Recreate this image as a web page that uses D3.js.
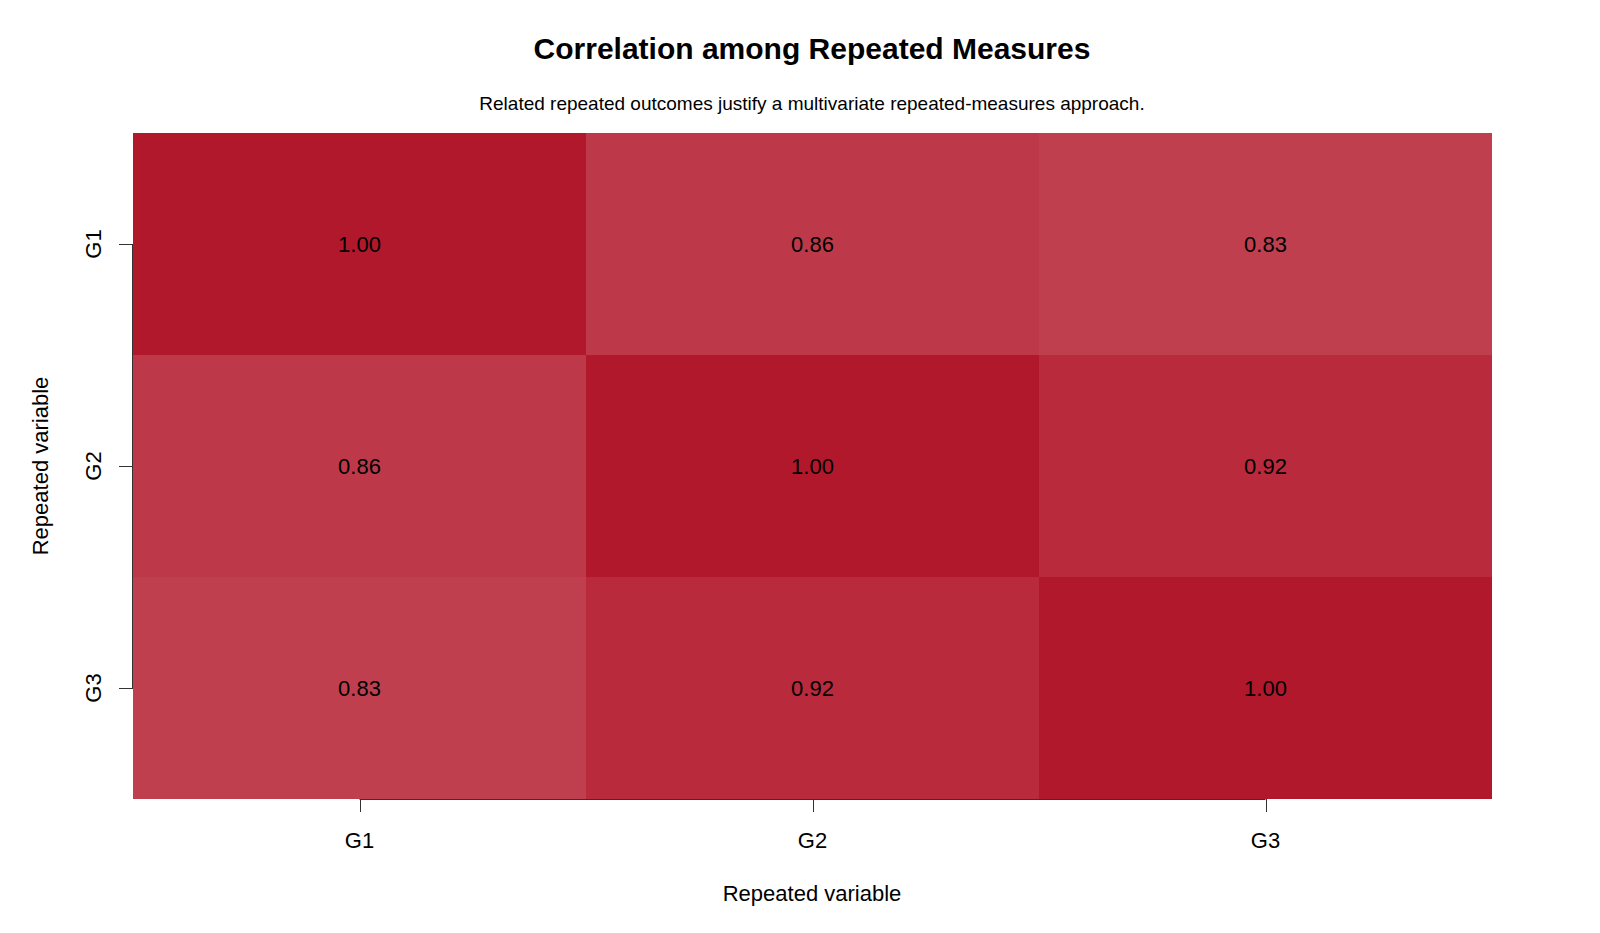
<!DOCTYPE html>
<html>
<head>
<meta charset="utf-8">
<script src="https://cdn.jsdelivr.net/npm/d3@7"></script>
<style>
  html, body { margin: 0; padding: 0; background: #fff; }
  svg { display: block; font-family: "Liberation Sans", Arial, sans-serif; }
</style>
</head>
<body>
<svg id="chart" width="1600" height="933"></svg>
<script>
const rowVars = ["G1", "G2", "G3"];
const colVars = ["G1", "G2", "G3"];
const corrG1 = [1.00, 0.86, 0.83];
const corrG2 = [0.86, 1.00, 0.92];
const corrG3 = [0.83, 0.92, 1.00];
const corrRows = [corrG1, corrG2, corrG3];
const titleText = "Correlation among Repeated Measures";
const subtitleText = "Related repeated outcomes justify a multivariate repeated-measures approach.";
const xAxisTitle = "Repeated variable";
const yAxisTitle = "Repeated variable";

const cells = [];
rowVars.forEach((r, i) => colVars.forEach((c, j) => cells.push({ row: r, col: c, value: corrRows[i][j] })));

const svg = d3.select("#chart");
const margin = { left: 133, right: 108, top: 133, bottom: 134 };
const W = 1600, H = 933;
const x = d3.scaleBand().domain(colVars).range([margin.left, W - margin.right]).padding(0);
const y = d3.scaleBand().domain(rowVars).range([margin.top, H - margin.bottom]).padding(0);
const opacity = d3.scaleLinear().domain([0, 1]).range([0, 1]);
const baseColor = "#B2182B";

svg.append("g").selectAll("rect").data(cells).join("rect")
  .attr("x", d => x(d.col))
  .attr("y", d => y(d.row))
  .attr("width", x.bandwidth())
  .attr("height", y.bandwidth())
  .attr("fill", baseColor)
  .attr("fill-opacity", d => opacity(d.value));

svg.append("g").selectAll("text").data(cells).join("text")
  .attr("x", d => x(d.col) + x.bandwidth() / 2)
  .attr("y", d => y(d.row) + y.bandwidth() / 2)
  .attr("dy", "0.35em")
  .attr("text-anchor", "middle")
  .attr("font-size", 22)
  .attr("fill", "#000")
  .text(d => d3.format(".2f")(d.value));

// Axes (R-style: line spans first to last tick)
const xPos = d => x(d) + x.bandwidth() / 2;
const yPos = d => y(d) + y.bandwidth() / 2;
const axisColor = "#333";
const yb = H - margin.bottom;
const gx = svg.append("g");
gx.append("line").attr("x1", xPos(colVars[0])).attr("x2", xPos(colVars[colVars.length - 1]))
  .attr("y1", yb + 0.5).attr("y2", yb + 0.5).attr("stroke", axisColor).attr("stroke-width", 1);
gx.selectAll("line.tick").data(colVars).join("line").attr("class", "tick")
  .attr("x1", d => Math.round(xPos(d)) + 0.5).attr("x2", d => Math.round(xPos(d)) + 0.5)
  .attr("y1", yb).attr("y2", yb + 13).attr("stroke", axisColor);
gx.selectAll("text").data(colVars).join("text")
  .attr("x", xPos).attr("y", 848)
  .attr("text-anchor", "middle").attr("font-size", 22).text(d => d);

const xl = margin.left;
const gy = svg.append("g");
gy.append("line").attr("x1", xl - 0.5).attr("x2", xl - 0.5)
  .attr("y1", yPos(rowVars[0])).attr("y2", yPos(rowVars[rowVars.length - 1]))
  .attr("stroke", axisColor).attr("stroke-width", 1);
gy.selectAll("line.tick").data(rowVars).join("line").attr("class", "tick")
  .attr("x1", xl - 14).attr("x2", xl)
  .attr("y1", d => Math.round(yPos(d)) + 0.5).attr("y2", d => Math.round(yPos(d)) + 0.5)
  .attr("stroke", axisColor);
gy.selectAll("text").data(rowVars).join("text")
  .attr("transform", d => `translate(101,${yPos(d)}) rotate(-90)`)
  .attr("text-anchor", "middle").attr("font-size", 22).text(d => d);

svg.append("text").attr("x", 812).attr("y", 59).attr("text-anchor", "middle")
  .attr("font-size", 30).attr("font-weight", "bold").text(titleText);
svg.append("text").attr("x", 812).attr("y", 110).attr("text-anchor", "middle")
  .attr("font-size", 19).text(subtitleText);
svg.append("text").attr("x", 812).attr("y", 901).attr("text-anchor", "middle")
  .attr("font-size", 22).text(xAxisTitle);
svg.append("text").attr("transform", `translate(48,466) rotate(-90)`).attr("text-anchor", "middle")
  .attr("font-size", 22).text(yAxisTitle);
</script>
</body>
</html>
